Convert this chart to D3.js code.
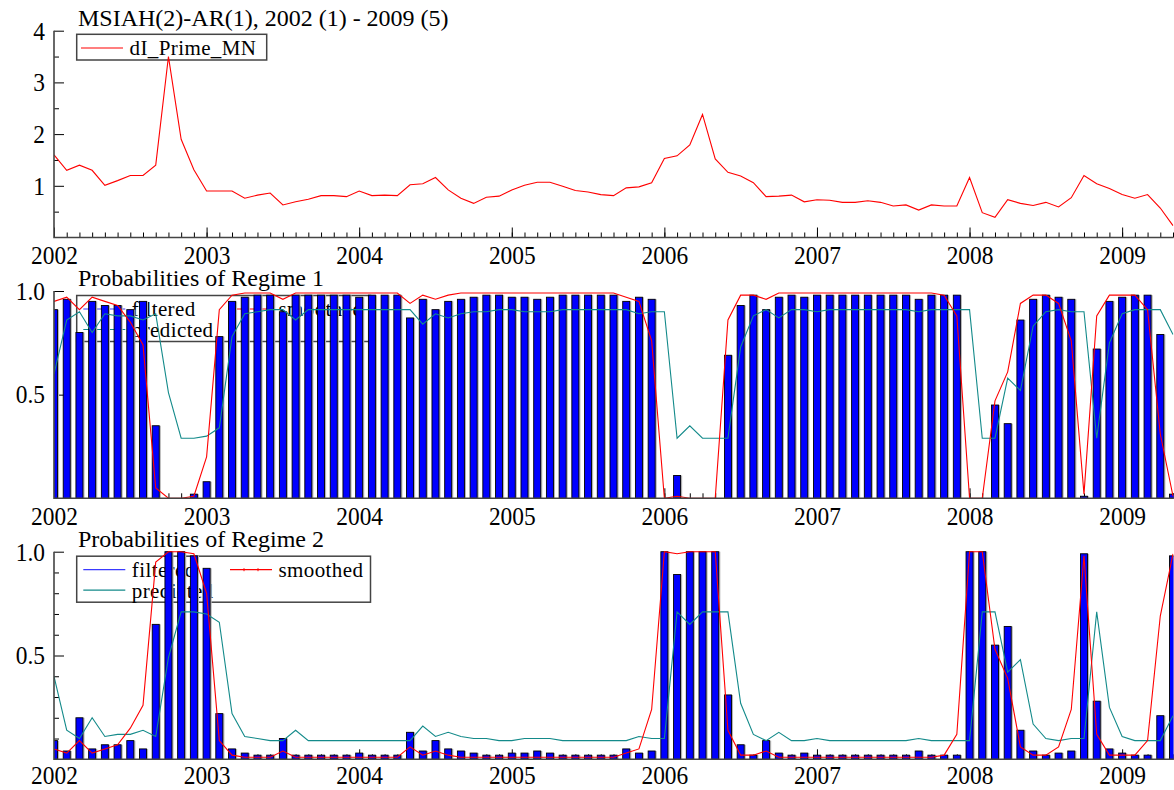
<!DOCTYPE html>
<html>
<head>
<meta charset="utf-8">
<script src="https://cdn.jsdelivr.net/npm/d3@7"></script>
<style>
  body { margin: 0; background: #fff; }
  svg { display: block; }
  svg text { font-family: "Liberation Serif", "Times New Roman", serif; }
</style>
</head>
<body>
<svg id="chart" width="1174" height="790"></svg>
<script>
// * data: monthly, 2002 (1) - 2009 (5)
const yearLabels = ['2002', '2003', '2004', '2005', '2006', '2007', '2008', '2009'];
const yearStarts = [0, 12, 24, 36, 48, 60, 72, 84];

const primeMN = [
  1.60, 1.30, 1.40, 1.30, 1.01, 1.10, 1.20, 1.20, 1.40, 3.50, 1.90, 1.31,
  0.90, 0.90, 0.90, 0.76, 0.82, 0.86, 0.63, 0.69, 0.74, 0.81, 0.81, 0.79,
  0.90, 0.81, 0.82, 0.81, 1.02, 1.04, 1.16, 0.92, 0.76, 0.66, 0.78, 0.80,
  0.92, 1.01, 1.07, 1.07, 0.99, 0.91, 0.88, 0.83, 0.81, 0.96, 0.98, 1.06,
  1.53, 1.58, 1.79, 2.38, 1.52, 1.26, 1.19, 1.06, 0.79, 0.80, 0.82, 0.69,
  0.73, 0.72, 0.68, 0.68, 0.71, 0.68, 0.61, 0.63, 0.53, 0.63, 0.61, 0.61,
  1.16, 0.48, 0.39, 0.73, 0.66, 0.62, 0.68, 0.59, 0.77, 1.20, 1.04, 0.95,
  0.83, 0.76, 0.83, 0.57, 0.23
];

// regime 1
const filtered1 = [
  .91, .96, .80, .95, .93, .93, .91, .95, .35, 0, 0, .02,
  .08, .78, .95, .97, .98, .98, .90, .98, .98, .98, .98, .98,
  .97, .98, .98, .98, .87, .96, .91, .95, .96, .97, .98, .98,
  .97, .97, .96, .97, .98, .98, .98, .98, .98, .95, .97, .96,
  0, .11, 0, 0, 0, .69, .93, .98, .91, .97, .98, .97,
  .98, .98, .98, .98, .98, .98, .98, .98, .96, .98, .98, .98,
  0, 0, .45, .36, .86, .96, .98, .97, .96, .01, .72, .95,
  .97, .98, .98, .79, .02
];
const smoothed1 = [
  .95, .97, .91, .97, .95, .93, .85, .74, .05, 0, 0, .01,
  .20, .91, .98, .99, .99, .99, .96, .99, .99, .99, .99, .99,
  .99, .99, .99, .99, .94, .98, .96, .98, .99, .99, .99, .99,
  .99, .99, .99, .99, .99, .99, .99, .99, .99, .97, .95, .76,
  0, .01, 0, 0, 0, .86, .98, .98, .96, .99, .99, .99,
  .99, .99, .99, .99, .99, .99, .99, .99, .99, .99, .98, .88,
  0, 0, .47, .61, .94, .98, .98, .94, .76, .02, .88, .98,
  .98, .98, .91, .31, .01
];
const predicted1 = [
  .60, .86, .90, .80, .89, .88, .88, .86, .89, .51, .29, .29,
  .30, .34, .78, .89, .90, .91, .91, .86, .91, .91, .91, .91,
  .91, .91, .91, .91, .91, .84, .89, .87, .89, .90, .90, .91,
  .91, .90, .90, .90, .91, .91, .91, .91, .91, .91, .89, .90,
  .90, .29, .35, .29, .29, .29, .73, .88, .91, .87, .91, .91,
  .90, .91, .91, .91, .91, .91, .91, .91, .90, .91, .91, .91,
  .91, .29, .29, .58, .52, .83, .90, .91, .90, .90, .29, .75,
  .89, .91, .91, .91, .79
];

// regime 2
const filtered2 = [
  .09, .04, .20, .05, .07, .07, .09, .05, .65, 1.00, 1.00, .98,
  .92, .22, .05, .03, .02, .02, .10, .02, .02, .02, .02, .02,
  .03, .02, .02, .02, .13, .04, .09, .05, .04, .03, .02, .02,
  .03, .03, .04, .03, .02, .02, .02, .02, .02, .05, .03, .04,
  1.00, .89, 1.00, 1.00, 1.00, .31, .07, .02, .09, .03, .02, .03,
  .02, .02, .02, .02, .02, .02, .02, .02, .04, .02, .02, .02,
  1.00, 1.00, .55, .64, .14, .04, .02, .03, .04, .99, .28, .05,
  .03, .02, .02, .21, .98
];
const smoothed2 = [
  .05, .03, .09, .03, .05, .07, .15, .26, .95, 1.00, 1.00, .99,
  .80, .09, .02, .01, .01, .01, .04, .01, .01, .01, .01, .01,
  .01, .01, .01, .01, .06, .02, .04, .02, .01, .01, .01, .01,
  .01, .01, .01, .01, .01, .01, .01, .01, .01, .03, .05, .24,
  1.00, .99, 1.00, 1.00, 1.00, .14, .02, .02, .04, .01, .01, .01,
  .01, .01, .01, .01, .01, .01, .01, .01, .01, .01, .02, .12,
  1.00, 1.00, .53, .39, .06, .02, .02, .06, .24, .98, .12, .02,
  .02, .02, .09, .69, .99
];
const predicted2 = [
  .40, .14, .10, .20, .11, .12, .12, .14, .11, .49, .71, .71,
  .70, .66, .22, .11, .10, .09, .09, .14, .09, .09, .09, .09,
  .09, .09, .09, .09, .09, .16, .11, .13, .11, .10, .10, .09,
  .09, .10, .10, .10, .09, .09, .09, .09, .09, .09, .11, .10,
  .10, .71, .65, .71, .71, .71, .27, .12, .09, .13, .09, .09,
  .10, .09, .09, .09, .09, .09, .09, .09, .10, .09, .09, .09,
  .09, .71, .71, .42, .48, .17, .10, .09, .10, .10, .71, .25,
  .11, .09, .09, .09, .21
];

const RED = '#ff0000';
const TEAL = '#138a8a';
const BLUE = '#0000ff';
const SERIF = '"Liberation Serif", "Times New Roman", serif';
const FONT = 26;

const svg = d3.select('#chart');
const x = d3.scaleLinear().domain([0, primeMN.length - 1]).range([54, 1173]);
const monthTicks = d3.range(primeMN.length);

svg.append('defs').append('clipPath').attr('id', 'plotClip')
  .append('rect').attr('x', 54).attr('y', 0).attr('width', 1173 - 54 + 0.5).attr('height', 790);

// d3 axes put their own sans font on the group, swap in the serif one
// tick labels in the original are tall and narrow, hence the squeeze
function plainAxis(a) {
  a.attr('font-family', SERIF).attr('font-size', FONT);
  a.select('.domain').remove();
  a.selectAll('text')
    .style('font-family', SERIF)
    .attr('font-size', FONT)
    .attr('transform', 'scale(0.9,1)')
    .attr('fill', '#000');
  a.selectAll('line').attr('stroke', '#000').attr('stroke-width', 1);
}

// x axis with month ticks pointing up, year labels below
function drawXAxis(yPos, pad) {
  const g = svg.append('g').attr('transform', `translate(0,${yPos})`);
  g.append('g')
    .call(d3.axisBottom(x).tickValues(monthTicks).tickSize(-5).tickFormat(''))
    .call(plainAxis);
  g.append('g')
    .call(d3.axisBottom(x).tickValues(yearStarts).tickSize(-10).tickPadding(pad)
      .tickFormat((d, i) => yearLabels[i]))
    .call(plainAxis);
}

function drawYAxis(y, major, minor, fmt) {
  const g = svg.append('g').attr('transform', 'translate(54,0)');
  g.append('g')
    .call(d3.axisLeft(y).tickValues(minor).tickSize(-5).tickFormat(''))
    .call(plainAxis);
  g.append('g')
    .call(d3.axisLeft(y).tickValues(major).tickSize(-10).tickPadding(10).tickFormat(fmt))
    .call(plainAxis);
}

function drawFrame(y) {
  const r = y.range();
  svg.append('path')
    .attr('d', `M54,${r[1]}V${r[0]}H1173.5`)
    .attr('fill', 'none').attr('stroke', '#444').attr('stroke-width', 1.6);
}

function drawTitle(text, yTop) {
  svg.append('text').attr('x', 78).attr('y', yTop - 5)
    .attr('font-size', 24).text(text);
}

function drawLine(values, y, color) {
  svg.append('path')
    .datum(values)
    .attr('clip-path', 'url(#plotClip)')
    .attr('fill', 'none')
    .attr('stroke', color)
    .attr('stroke-width', 1.1)
    .attr('d', d3.line().x((d, i) => x(i)).y(d => y(d)));
}

function drawBars(values, y) {
  const g = svg.append('g').attr('clip-path', 'url(#plotClip)');
  const w = 7;
  const nonZero = values.map((v, i) => ({ v, i })).filter(d => d.v > 0);
  g.selectAll('.shadow').data(nonZero).enter().append('rect')
    .attr('x', d => x(d.i) - w / 2 + 1.6)
    .attr('y', d => y(d.v))
    .attr('width', w)
    .attr('height', d => y(0) - y(d.v))
    .attr('fill', '#b4b4b4');
  g.selectAll('.bar').data(nonZero).enter().append('rect')
    .attr('x', d => x(d.i) - w / 2)
    .attr('y', d => y(d.v))
    .attr('width', w)
    .attr('height', d => y(0) - y(d.v))
    .attr('fill', BLUE)
    .attr('stroke', '#000')
    .attr('stroke-width', 0.9);
}

function legendBox(x0, y0, x1, y1) {
  svg.append('rect').attr('x', x0).attr('y', y0).attr('width', x1 - x0).attr('height', y1 - y0)
    .attr('fill', '#fff').attr('stroke', '#444').attr('stroke-width', 1.5);
}

function legendItem(lx, ly, label, color, marks) {
  svg.append('line').attr('x1', lx).attr('x2', lx + 42).attr('y1', ly).attr('y2', ly)
    .attr('stroke', color).attr('stroke-width', 1.2);
  if (marks) {
    [lx + 14, lx + 28].forEach(mx => {
      svg.append('line').attr('x1', mx).attr('x2', mx).attr('y1', ly - 1.5).attr('y2', ly + 1.5)
        .attr('stroke', color).attr('stroke-width', 1);
    });
  }
  svg.append('text').attr('x', lx + 48.5).attr('y', ly + 7.3)
    .attr('font-size', 21).attr('letter-spacing', 0.4).text(label);
}

// * top panel
const yTop = d3.scaleLinear().domain([0, 4]).range([237.5, 30.7]);
drawTitle('MSIAH(2)-AR(1), 2002 (1) - 2009 (5)', 30.7);
legendBox(76.7, 34.3, 266.7, 60);
legendItem(81, 48, 'dI_Prime_MN', RED, false);
drawXAxis(237.5, 8);
drawYAxis(yTop, [1, 2, 3, 4], [0.5, 1.5, 2.5, 3.5], d3.format('d'));
drawLine(primeMN, yTop, RED);
drawFrame(yTop);

// * regime panels
function drawRegime(title, top, bottom, filtered, smoothed, predicted, pad) {
  const y = d3.scaleLinear().domain([0, 1]).range([bottom, top]);
  drawTitle(title, top);
  legendBox(76.7, top + 4.5, 370.5, top + 50.5);
  legendItem(83.3, top + 18, 'filtered', '#3a3aff', false);
  legendItem(230, top + 18, 'smoothed', RED, true);
  legendItem(83.3, top + 38.5, 'predicted', TEAL, false);
  drawXAxis(bottom, pad);
  drawYAxis(y, [0.5, 1.0], [0.1, 0.2, 0.3, 0.4, 0.6, 0.7, 0.8, 0.9], d3.format('.1f'));
  drawBars(filtered, y);
  drawLine(predicted, y, TEAL);
  drawLine(smoothed, y, RED);
  drawFrame(y);
}

drawRegime('Probabilities of Regime 1', 291, 498.3, filtered1, smoothed1, predicted1, 8);
drawRegime('Probabilities of Regime 2', 551.7, 759.3, filtered2, smoothed2, predicted2, 6);
</script>
</body>
</html>
